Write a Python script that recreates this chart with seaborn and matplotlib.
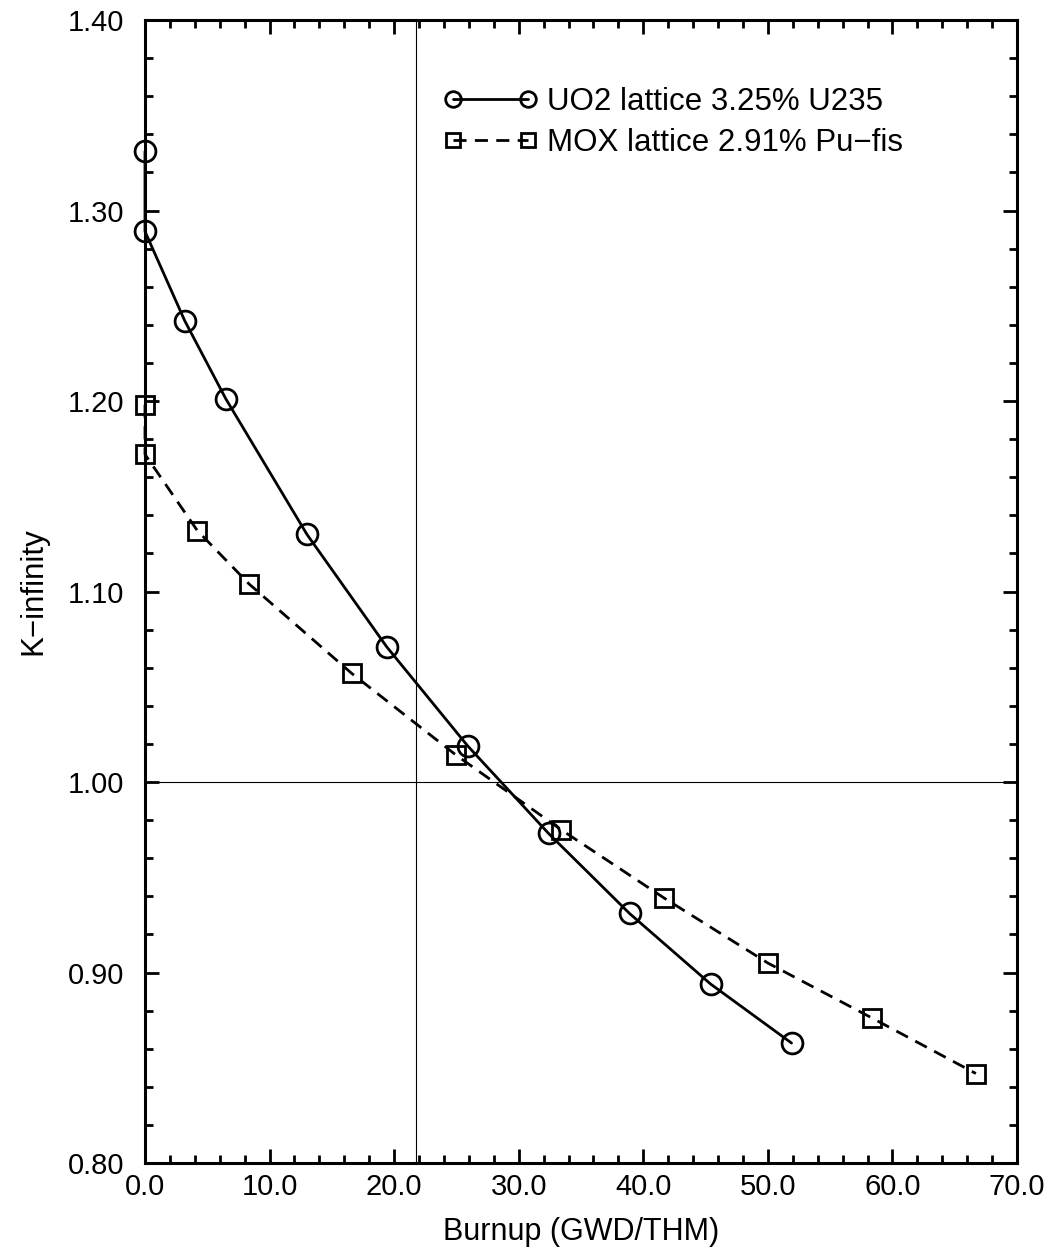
import matplotlib
matplotlib.use("Agg")
import matplotlib.pyplot as plt
import seaborn as sns
import pandas as pd
from matplotlib.ticker import MultipleLocator, FormatStrFormatter

uo2_burnup = [0.0, 0.0, 3.2, 6.5, 13.0, 19.4, 25.9, 32.4, 38.9, 45.4, 51.9]
uo2_kinf = [1.331, 1.289, 1.242, 1.201, 1.130, 1.071, 1.019, 0.973, 0.931, 0.894, 0.863]
mox_burnup = [0.0, 0.0, 4.2, 8.35, 16.6, 25.0, 33.4, 41.7, 50.0, 58.4, 66.7]
mox_kinf = [1.198, 1.172, 1.132, 1.104, 1.057, 1.014, 0.975, 0.939, 0.905, 0.876, 0.847]
uo2_label = "UO2 lattice 3.25% U235"
mox_label = "MOX lattice 2.91% Pu\u2212fis"
ref_burnup = 21.75
ref_k = 1.00

sns.set_style("ticks")
plt.rcParams['font.family'] = ['Liberation Sans', 'DejaVu Sans']
plt.rcParams['text.color'] = 'black'
plt.rcParams['axes.labelcolor'] = 'black'
plt.rcParams['xtick.color'] = 'black'
plt.rcParams['ytick.color'] = 'black'

fig = plt.figure(figsize=(10.53, 12.51), dpi=100)
ax = fig.add_axes([0.1377, 0.0703, 0.8281, 0.9137])

ax.axvline(ref_burnup, color='black', lw=0.8, zorder=1)
ax.axhline(ref_k, color='black', lw=0.8, zorder=1)

df_u = pd.DataFrame({'x': uo2_burnup, 'y': uo2_kinf})
df_m = pd.DataFrame({'x': mox_burnup, 'y': mox_kinf})

sns.lineplot(data=df_u, x='x', y='y', ax=ax, estimator=None, sort=False,
             color='black', lw=2.0, marker='o', markersize=15,
             markerfacecolor='none', markeredgecolor='black', markeredgewidth=2.0,
             label=uo2_label, clip_on=False, zorder=3)
sns.lineplot(data=df_m, x='x', y='y', ax=ax, estimator=None, sort=False,
             color='black', lw=2.0, linestyle=(0, (4.7, 3.0)), marker='s', markersize=12.5,
             markerfacecolor='none', markeredgecolor='black', markeredgewidth=2.0,
             label=mox_label, clip_on=False, zorder=3)

ax.set_xlim(0, 70)
ax.set_ylim(0.80, 1.40)
ax.xaxis.set_major_locator(MultipleLocator(10))
ax.xaxis.set_minor_locator(MultipleLocator(2))
ax.yaxis.set_major_locator(MultipleLocator(0.1))
ax.yaxis.set_minor_locator(MultipleLocator(0.02))
ax.xaxis.set_major_formatter(FormatStrFormatter('%.1f'))
ax.yaxis.set_major_formatter(FormatStrFormatter('%.2f'))
ax.tick_params(which='both', direction='in', top=True, right=True, width=2, labelsize=21,
               colors='black', labelcolor='black')
ax.tick_params(axis='x', which='both', pad=7)
ax.tick_params(axis='y', which='both', pad=15)
ax.tick_params(which='major', length=10)
ax.tick_params(which='minor', length=6)
for s in ax.spines.values():
    s.set_linewidth(2.2)
    s.set_color('black')

ax.set_xlabel("Burnup (GWD/THM)", fontsize=22, labelpad=12, color='black')
ax.set_ylabel("K\u2212infinity", fontsize=22.5, labelpad=14, color='black')

leg = ax.legend(loc='upper left', bbox_to_anchor=(0.343, 0.9415), frameon=False,
                fontsize=22.5, handlelength=3.0, handletextpad=0.3, labelspacing=0.36,
                borderpad=0, borderaxespad=0, markerscale=0.75, numpoints=2)
for t in leg.get_texts():
    t.set_color('black')

fig.savefig("out.png", dpi=100)
